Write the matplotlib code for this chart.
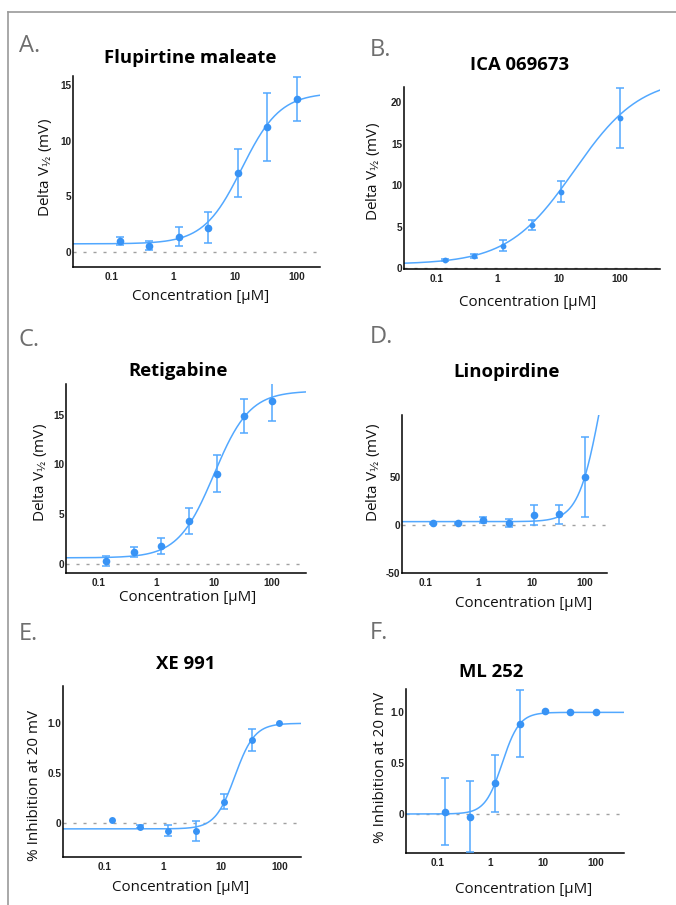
import numpy as np
import matplotlib
matplotlib.use("Agg")
import matplotlib.pyplot as plt
from matplotlib.lines import Line2D

# concentrations (uM), 3-fold dilution series
conc = [0.137, 0.41, 1.23, 3.7, 11.1, 33.3, 100]
conc_b = [0.137, 0.41, 1.23, 3.7, 11.1, 100]

# A. Flupirtine maleate
flup_mean = [1.0, 0.6, 1.4, 2.2, 7.1, 11.25, 13.75]
flup_err = [0.38, 0.37, 0.87, 1.37, 2.15, 3.05, 1.96]
flup_fit = [0.75, 14.3, 13.0, 1.4]          # bottom, top, EC50, hill

# B. ICA 069673
ica_mean = [1.0, 1.52, 2.72, 5.2, 9.24, 18.08]
ica_err = [0.1, 0.25, 0.65, 0.6, 1.3, 3.65]
ica_fit = [0.5, 23.0, 18.0, 0.8]

# C. Retigabine
reti_mean = [0.31, 1.2, 1.78, 4.3, 9.08, 14.86, 16.4]
reti_err = [0.5, 0.48, 0.77, 1.35, 1.9, 1.7, 2.0]
reti_fit = [0.6, 17.4, 10.0, 1.4]

# D. Linopirdine
lino_mean = [2.4, 2.4, 4.9, 2.1, 10.8, 11.2, 50.3]
lino_err = [1.0, 1.0, 3.0, 4.0, 10.3, 10.0, 41.5]
lino_fit = [3.5, 244.0, 198.0, 2.1]

# E. XE 991
xe_mean = [0.03, -0.033, -0.073, -0.073, 0.217, 0.833, 1.0]
xe_err = [0.0, 0.015, 0.058, 0.1, 0.073, 0.11, 0.0]
xe_fit = [-0.055, 1.0, 17.3, 2.57]

# F. ML 252
ml_mean = [0.023, -0.026, 0.30, 0.89, 1.016, 1.0, 1.0]
ml_err = [0.33, 0.35, 0.285, 0.33, 0.0, 0.0, 0.0]
ml_fit = [0.0, 1.0, 1.69, 2.67]

W, H = 676, 905
fig = plt.figure(figsize=(W / 100, H / 100), dpi=100)

PT_BLUE = '#3893f5'
LN_BLUE = '#52a8ff'
LBL_FONT = ['Open Sans', 'DejaVu Sans']
TICK_FONT = ['Liberation Sans', 'DejaVu Sans']


def px_axes(l, t, r, b):
    return fig.add_axes([l / W, 1 - b / H, (r - l) / W, (b - t) / H])


def hill(x, p):
    bot, top, ec50, h = p
    return bot + (top - bot) / (1 + (ec50 / x) ** h)


def ftext(x, y, s, **kw):
    fig.text(x / W, 1 - y / H, s, **kw)


def panel(rect, x, mean, err, fit, xlim, ylim, yticks, yticklabels, ms=5.5):
    ax = px_axes(*rect)
    ax.set_xscale('log')
    ax.set_xlim(*xlim)
    ax.set_ylim(*ylim)
    xs = np.logspace(np.log10(xlim[0]), np.log10(xlim[1]), 300)
    ax.axhline(0, color='#a0a0a0', lw=1.0, ls=(0, (2.2, 5)), zorder=1)
    ax.plot(xs, hill(xs, fit), color=LN_BLUE, lw=1.1, zorder=2)
    e = np.array(err)
    has = e > 0
    xa = np.array(x)
    ma = np.array(mean)
    ax.errorbar(xa[has], ma[has], yerr=e[has], fmt='none', ecolor=LN_BLUE,
                elinewidth=1.1, capsize=2.8, capthick=1.1, zorder=3)
    ax.plot(x, mean, 'o', color=PT_BLUE, ms=ms, mec='none', zorder=4)
    for s in ['top', 'right']:
        ax.spines[s].set_visible(False)
    for s in ['left', 'bottom']:
        ax.spines[s].set_linewidth(1.1)
    ax.set_xticks([0.1, 1, 10, 100])
    ax.set_xticklabels(['0.1', '1', '10', '100'])
    ax.xaxis.set_minor_locator(matplotlib.ticker.NullLocator())
    ax.set_yticks(yticks)
    ax.set_yticklabels(yticklabels)
    ax.tick_params(length=0, labelsize=7.2, colors='#222222')
    ax.tick_params(axis='x', pad=3.5)
    ax.tick_params(axis='y', pad=1)
    for lab in ax.get_xticklabels() + ax.get_yticklabels():
        lab.set_family(TICK_FONT)
        lab.set_fontweight('bold')
    return ax


panel((72.7, 76, 320, 266.7), conc, flup_mean, flup_err, flup_fit,
      (0.0235, 240), (-1.3, 15.8), [0, 5, 10, 15], ['0', '5', '10', '15'])
panel((403.7, 87, 659.7, 269.3), conc_b, ica_mean, ica_err, ica_fit,
      (0.029, 453), (-0.1, 21.8), [0, 5, 10, 15, 20],
      ['0', '5', '10', '15', '20'], ms=4.2)
panel((65.7, 384, 306, 573.3), conc, reti_mean, reti_err, reti_fit,
      (0.027, 394), (-0.96, 18.1), [0, 5, 10, 15], ['0', '5', '10', '15'])
panel((402, 415, 607.3, 573.3), conc, lino_mean, lino_err, lino_fit,
      (0.036, 268), (-50.7, 115.4), [-50, 0, 50], ['-50', '0', '50'])
panel((62.7, 686, 301, 856.7), conc, xe_mean, xe_err, xe_fit,
      (0.0193, 235), (-0.333, 1.373), [0, 0.5, 1.0], ['0', '0.5', '1.0'],
      ms=5.0)
panel((405.7, 689, 623.7, 853.3), conc, ml_mean, ml_err, ml_fit,
      (0.025, 340), (-0.387, 1.23), [0, 0.5, 1.0], ['0', '0.5', '1.0'])

# panel letters
for (x, y, s) in [(19, 46, 'A.'), (370, 50, 'B.'), (19, 340, 'C.'),
                  (370, 337, 'D.'), (19, 634, 'E.'), (370, 633, 'F.')]:
    ftext(x, y, s, fontsize=17, color='#6e6e6e', family=LBL_FONT,
          ha='left', va='center')

# titles
for (x, y, s) in [(190, 58, 'Flupirtine maleate'), (520, 65, 'ICA 069673'),
                  (178, 371, 'Retigabine'), (507, 372, 'Linopirdine'),
                  (186, 664, 'XE 991'), (491, 672, 'ML 252')]:
    ftext(x, y, s, fontsize=13.3, fontweight='bold', color='black',
          family=LBL_FONT, ha='center', va='center')

# x labels
for (x, y) in [(201, 297), (528, 303), (188, 597), (524, 603),
               (181, 887), (524, 889)]:
    ftext(x, y, 'Concentration [\u00b5M]', fontsize=10.9, color='#111111',
          family=LBL_FONT, ha='center', va='center')

# y labels
vhalf = 'Delta V$_{\u00bd}$ (mV)'
for (x, y, s) in [(45, 168, vhalf), (373, 172, vhalf), (40, 473, vhalf),
                  (373, 473, vhalf), (35, 785, '% Inhibition at 20 mV'),
                  (380, 767, '% Inhibition at 20 mV')]:
    ftext(x, y, s, fontsize=11, color='#111111', family=LBL_FONT,
          rotation=90, ha='center', va='center')

# outer frame lines
fig.add_artist(Line2D([7.5 / W, 1], [1 - 12 / H, 1 - 12 / H],
                      color='#9a9a9a', lw=1.2))
fig.add_artist(Line2D([7.5 / W, 7.5 / W], [0, 1 - 12 / H],
                      color='#9a9a9a', lw=1.2))

fig.savefig('out.png', dpi=100, facecolor='white')
